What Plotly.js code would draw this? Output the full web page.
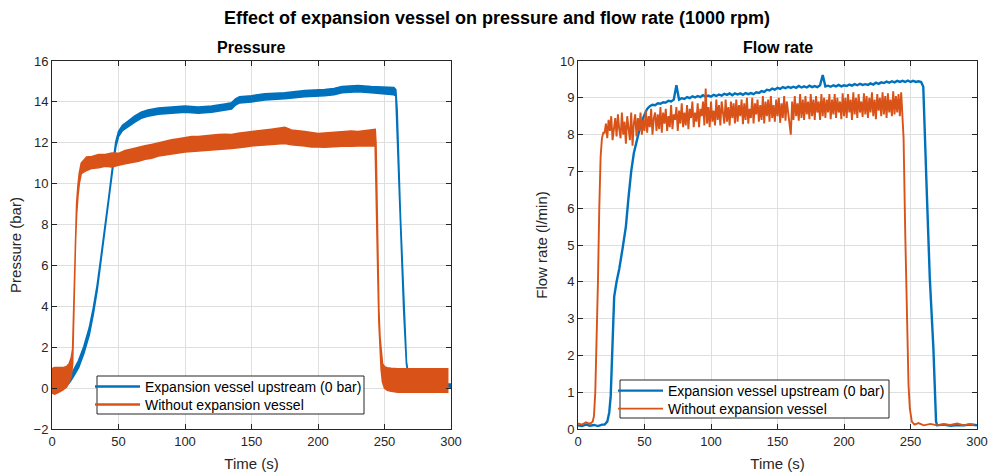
<!DOCTYPE html>
<html>
<head>
<meta charset="utf-8">
<script src="https://cdn.plot.ly/plotly-3.0.1.min.js"></script>
<style>
  html, body { margin: 0; padding: 0; background: #fff; }
  #chart { width: 994px; height: 475px; }
</style>
</head>
<body>
<div id="chart"></div>
<script>
// ---------------- Data ----------------
const seriesNames = ["Expansion vessel upstream (0 bar)", "Without expansion vessel"];
const xTickVals = [0, 50, 100, 150, 200, 250, 300];

// Pressure (bar) – noisy signals given as lower / upper envelope of the noise band
const pBlueT    = [0, 5, 10, 13, 16, 20, 24, 28, 31, 34, 37, 40, 43, 46, 48, 50, 53, 57, 62, 67, 72, 80, 90, 100, 110, 120, 130, 135, 138, 141, 150, 160, 175, 190, 205, 212, 218, 230, 240, 250, 257, 258.5, 259.5, 262, 264.5, 266.5, 268, 270, 280, 290, 300];
const pBlueLow  = [-0.1, -0.05, 0.1, 0.25, 0.55, 1.0, 1.7, 2.6, 3.6, 4.8, 6.3, 7.7, 9.3, 10.9, 11.8, 12.3, 12.6, 12.8, 13.0, 13.2, 13.3, 13.4, 13.45, 13.5, 13.45, 13.5, 13.6, 13.65, 13.85, 13.95, 14.0, 14.1, 14.15, 14.25, 14.3, 14.35, 14.45, 14.5, 14.45, 14.4, 14.35, 14.3, 13.3, 8.1, 3.7, 1.2, 0.55, 0.3, 0.15, 0.1, 0.05];
const pBlueHigh = [0.05, 0.1, 0.25, 0.45, 0.85, 1.35, 2.05, 2.95, 3.9, 5.05, 6.5, 7.9, 9.5, 11.1, 12.05, 12.55, 12.85, 13.05, 13.3, 13.5, 13.6, 13.7, 13.75, 13.8, 13.75, 13.8, 13.9, 13.95, 14.15, 14.25, 14.3, 14.4, 14.45, 14.55, 14.6, 14.65, 14.75, 14.8, 14.75, 14.7, 14.7, 14.6, 13.6, 8.4, 3.9, 1.3, 0.65, 0.4, 0.25, 0.2, 0.2];

const pOrangeT    = [0, 2, 5, 8, 11, 13, 14.5, 15.5, 16.3, 17, 17.7, 18.5, 19.5, 20.5, 22, 26, 30, 35, 40, 45, 50, 55, 60, 65, 70, 75, 80, 85, 90, 95, 100, 105, 110, 115, 120, 125, 130, 135, 140, 145, 150, 155, 160, 165, 170, 175, 180, 185, 190, 195, 200, 205, 210, 215, 220, 225, 230, 235, 240, 243, 243.6, 244.3, 245, 245.8, 246.6, 247.5, 248.5, 250, 252, 255, 260, 270, 280, 290, 297.5];
const pOrangeLow  = [-0.25, -0.3, -0.2, -0.1, 0.05, 0.3, 0.6, 1.2, 3.2, 5.2, 7.2, 8.5, 9.4, 10.0, 10.5, 10.65, 10.75, 10.78, 10.85, 10.82, 10.9, 10.98, 11.05, 11.1, 11.2, 11.25, 11.35, 11.38, 11.45, 11.5, 11.55, 11.55, 11.6, 11.62, 11.65, 11.66, 11.7, 11.72, 11.75, 11.8, 11.85, 11.86, 11.9, 11.92, 11.95, 11.97, 11.9, 11.88, 11.85, 11.8, 11.8, 11.78, 11.8, 11.82, 11.85, 11.83, 11.85, 11.86, 11.85, 11.85, 11.5, 8.5, 5.5, 3.2, 1.9, 0.9, 0.3, 0.0, -0.1, -0.15, -0.2, -0.2, -0.2, -0.2, -0.2];
const pOrangeHigh = [0.95, 1.0, 1.0, 1.0, 1.05, 1.2, 1.5, 1.9, 3.8, 5.8, 7.8, 9.0, 9.9, 10.5, 11.0, 11.3, 11.33, 11.42, 11.43, 11.5, 11.48, 11.62, 11.7, 11.76, 11.85, 11.92, 12.0, 12.08, 12.15, 12.2, 12.25, 12.3, 12.3, 12.34, 12.35, 12.4, 12.42, 12.4, 12.47, 12.5, 12.55, 12.58, 12.62, 12.66, 12.72, 12.75, 12.62, 12.6, 12.55, 12.5, 12.45, 12.48, 12.5, 12.52, 12.55, 12.57, 12.55, 12.6, 12.62, 12.65, 12.0, 9.2, 6.3, 3.8, 2.5, 1.7, 1.2, 1.05, 1.0, 0.97, 0.95, 0.95, 0.95, 0.95, 0.95];

// Flow rate (l/min)
const fBlueT = [0, 3, 6, 9, 12, 15, 18, 20, 22, 23.5, 24.6, 25.5, 26.3, 27.2, 29, 31, 33.5, 36, 38, 40, 42, 44.5, 47, 49.5, 52,
  54, 56, 58, 60, 62, 64, 66, 68, 70, 72, 74, 76, 78, 80, 82, 84, 86, 88, 90, 92, 94, 96, 98, 100,
  102, 104, 106, 108, 110, 112, 114, 116, 118, 120, 122, 124, 126, 128, 130, 132, 134, 136, 138, 140,
  142, 144, 146, 148, 150, 152, 154, 156, 158, 160, 162, 164, 166, 168, 170, 172, 174, 176, 178, 180,
  182, 184, 186, 188, 190, 192, 194, 196, 198, 200, 202, 204, 206, 208, 210, 212, 214, 216, 218, 220,
  222, 224, 226, 228, 230, 232, 234, 236, 238, 240, 242, 244, 246, 248, 250, 252, 254, 256, 258,
  259.6, 262, 264.5, 267.2, 268.2, 269.2, 270, 275, 280, 285, 290, 295, 300];
const fBlueV = [0.1, 0.08, 0.12, 0.09, 0.11, 0.08, 0.12, 0.12, 0.2, 0.45, 0.9, 1.8, 2.8, 3.6, 4.0, 4.35, 4.9, 5.5, 6.3, 7.0, 7.5, 7.85, 8.25, 8.5, 8.7,
  8.77, 8.81, 8.8, 8.85, 8.84, 8.88, 8.87, 8.92, 8.9, 8.95, 9.34, 8.95, 8.99, 8.97, 9.02, 8.99, 9.04, 9.01, 9.05, 9.02, 9.07, 9.03, 9.06, 9.03,
  9.08, 9.05, 9.09, 9.06, 9.11, 9.08, 9.12, 9.07, 9.12, 9.09, 9.12, 9.08, 9.13, 9.1, 9.13, 9.1, 9.15, 9.13, 9.18, 9.16,
  9.22, 9.2, 9.25, 9.22, 9.27, 9.24, 9.29, 9.26, 9.3, 9.27, 9.3, 9.27, 9.32, 9.28, 9.31, 9.28, 9.33, 9.29, 9.32, 9.29,
  9.34, 9.62, 9.31, 9.33, 9.3, 9.34, 9.31, 9.35, 9.31, 9.34, 9.32, 9.36, 9.33, 9.37, 9.34, 9.38, 9.35, 9.37, 9.35, 9.39,
  9.36, 9.41, 9.38, 9.42, 9.4, 9.44, 9.41, 9.45, 9.42, 9.46, 9.43, 9.46, 9.43, 9.47, 9.43, 9.46, 9.43, 9.45, 9.43,
  9.3, 6.7, 4.1, 2.2, 1.1, 0.2, 0.1, 0.12, 0.09, 0.11, 0.1, 0.12, 0.1];

const fOrangeT = [0, 3, 6, 9, 11, 12, 13, 14, 15, 16, 17, 18, 19,
  20, 21, 22, 23, 24, 25, 26, 27, 28, 29,
  30, 31, 32, 33, 34, 35, 36, 37, 38, 39,
  40, 41, 42, 43, 44, 45, 46, 47, 48, 49,
  50, 51, 52, 53, 54, 55, 56, 57, 58, 59,
  60, 61, 62, 63, 64, 65, 66, 67, 68, 69,
  70, 71, 72, 73, 74, 75, 76, 77, 78, 79,
  80, 81, 82, 83, 84, 85, 86, 87, 88, 89,
  90, 91, 92, 93, 94, 95, 96, 97, 98, 99,
  100, 101, 102, 103, 104, 105, 106, 107, 108, 109,
  110, 111, 112, 113, 114, 115, 116, 117, 118, 119,
  120, 121, 122, 123, 124, 125, 126, 127, 128, 129,
  130, 131, 132, 133, 134, 135, 136, 137, 138, 139,
  140, 141, 142, 143, 144, 145, 146, 147, 148, 149,
  150, 151, 152, 153, 154, 155, 156, 157, 158, 159,
  160, 161, 162, 163, 164, 165, 166, 167, 168, 169,
  170, 171, 172, 173, 174, 175, 176, 177, 178, 179,
  180, 181, 182, 183, 184, 185, 186, 187, 188, 189,
  190, 191, 192, 193, 194, 195, 196, 197, 198, 199,
  200, 201, 202, 203, 204, 205, 206, 207, 208, 209,
  210, 211, 212, 213, 214, 215, 216, 217, 218, 219,
  220, 221, 222, 223, 224, 225, 226, 227, 228, 229,
  230, 231, 232, 233, 234, 235, 236, 237, 238, 239,
  240, 241, 242, 243, 244,
  244.8, 246, 247.3, 248.5, 249.5, 251, 253, 256, 260, 265, 270, 275, 280, 285, 290, 294, 298];
const fOrangeV = [0.15, 0.12, 0.18, 0.14, 0.2, 0.35, 1.0, 2.2, 4.0, 6.0, 7.4, 7.9, 8.05,
  8.05, 8.3, 7.9, 8.4, 8.1, 8.5, 7.85, 8.25, 8.45, 7.95,
  8.55, 8.15, 7.9, 8.6, 8.0, 8.35, 7.75, 8.5, 8.2, 7.85,
  8.6, 7.7, 8.3, 8.55, 7.95, 8.45, 8.1, 8.6, 8.0, 8.4,
  8.1, 8.65, 8.05, 8.5, 8.2, 8.7, 8.0, 8.45, 8.6, 8.1,
  8.55, 8.15, 8.75, 8.05, 8.6, 8.3, 8.7, 8.1, 8.5, 8.2,
  8.8, 8.15, 8.55, 8.4, 8.75, 8.1, 8.65, 8.3, 8.85, 8.2,
  8.6, 8.25, 8.8, 8.15, 8.7, 8.45, 8.9, 8.2, 8.6, 8.35,
  8.85, 8.2, 8.7, 8.5, 8.9, 8.25, 9.25, 8.3, 8.75, 8.2,
  8.9, 8.35, 8.65, 8.25, 8.95, 8.4, 8.8, 8.25, 8.9, 8.5,
  8.3, 8.95, 8.35, 8.75, 8.25, 8.9, 8.45, 8.85, 8.3, 8.95,
  8.35, 8.8, 8.5, 8.95, 8.28, 8.85, 8.4, 9.0, 8.3, 8.7,
  8.45, 9.0, 8.3, 8.85, 8.55, 8.95, 8.35, 8.8, 8.4, 9.05,
  8.3, 8.9, 8.5, 8.95, 8.35, 9.05, 8.45, 8.8, 8.35, 8.95,
  8.5, 9.0, 8.32, 8.85, 8.45, 9.05, 8.38, 8.9, 8.55, 8.35,
  8.0, 8.9, 8.4, 9.05, 8.5, 8.85, 8.38, 9.1, 8.45, 8.95,
  8.4, 9.05, 8.55, 8.9, 8.42, 9.1, 8.5, 8.95, 8.4, 9.05,
  8.6, 8.9, 8.4, 9.1, 8.5, 9.0, 8.45, 8.95, 8.6, 9.1,
  8.42, 8.95, 8.55, 9.1, 8.45, 9.0, 8.6, 8.9, 8.42, 9.12,
  8.5, 9.0, 8.45, 9.1, 8.6, 8.95, 8.4, 9.15, 8.55, 9.0,
  8.45, 9.1, 8.6, 8.9, 8.48, 9.12, 8.55, 9.05, 8.45, 9.0,
  8.6, 9.15, 8.5, 8.95, 8.42, 9.1, 8.65, 9.0, 8.5, 9.15,
  8.55, 9.05, 8.45, 9.12, 8.6, 8.95, 8.5, 9.18, 8.55, 9.05,
  8.6, 9.1, 8.5, 9.15, 8.6,
  7.9, 5.4, 2.8, 1.2, 0.55, 0.2, 0.12, 0.16, 0.1, 0.14, 0.1, 0.13, 0.11, 0.15, 0.1, 0.13, 0.12];

// ---------------- Styling ----------------
const BLUE = '#0072BD';
const ORANGE = '#D95319';
const FONT = 'Liberation Sans, Arial, Helvetica, sans-serif';
const AXC = '#262626';
const W = 994, H = 475;

function band(t, lo, hi, color, xa, ya) {
  return {
    x: t.concat(t.slice().reverse()),
    y: hi.concat(lo.slice().reverse()),
    xaxis: xa, yaxis: ya,
    mode: 'lines', fill: 'toself', fillcolor: color,
    line: { color: color, width: 1.6 },
    showlegend: false, hoverinfo: 'skip'
  };
}

const traces = [
  band(pBlueT, pBlueLow, pBlueHigh, BLUE, 'x', 'y'),
  band(pOrangeT, pOrangeLow, pOrangeHigh, ORANGE, 'x', 'y'),
  { x: [null], y: [null], xaxis: 'x', yaxis: 'y', mode: 'lines', line: { color: BLUE, width: 2.5 }, name: seriesNames[0], legend: 'legend' },
  { x: [null], y: [null], xaxis: 'x', yaxis: 'y', mode: 'lines', line: { color: ORANGE, width: 2.5 }, name: seriesNames[1], legend: 'legend3' },
  { x: fBlueT, y: fBlueV, xaxis: 'x2', yaxis: 'y2', mode: 'lines', line: { color: BLUE, width: 2.4 }, name: seriesNames[0], legend: 'legend2' },
  { x: fOrangeT, y: fOrangeV, xaxis: 'x2', yaxis: 'y2', mode: 'lines', line: { color: ORANGE, width: 1.9 }, name: seriesNames[1], legend: 'legend4' }
];

function xAxis(domain, anchor) {
  return {
    domain: domain, anchor: anchor, range: [0, 300], tickvals: xTickVals,
    showgrid: true, gridcolor: '#dfdfdf', gridwidth: 1, zeroline: false,
    showline: true, linecolor: AXC, linewidth: 1, mirror: 'ticks',
    ticks: 'inside', ticklen: 5, tickcolor: AXC,
    tickfont: { family: FONT, size: 13, color: AXC },
    title: { text: 'Time (s)', font: { family: FONT, size: 15, color: AXC }, standoff: 10 },
    automargin: false
  };
}
function yAxis(domain, anchor, range, dtick, label) {
  return {
    domain: domain, anchor: anchor, range: range, dtick: dtick, tick0: 0,
    showgrid: true, gridcolor: '#dfdfdf', gridwidth: 1, zeroline: false,
    showline: true, linecolor: AXC, linewidth: 1, mirror: 'ticks',
    ticks: 'inside', ticklen: 5, tickcolor: AXC,
    tickfont: { family: FONT, size: 13, color: AXC },
    title: { text: label, font: { family: FONT, size: 15, color: AXC }, standoff: 8 },
    automargin: false
  };
}

const yDom = [1 - 429 / H, 1 - 61 / H];

function legendBox(x0, y0, x1, y1) {
  return {
    type: 'rect', xref: 'paper', yref: 'paper', layer: 'above',
    x0: x0 / W, x1: x1 / W, y0: 1 - y1 / H, y1: 1 - y0 / H,
    fillcolor: '#ffffff', line: { color: AXC, width: 1 }
  };
}
function legendRow(xPx, rowY) {
  return {
    x: xPx / W, y: 1 - rowY / H, xanchor: 'left', yanchor: 'middle', xref: 'paper', yref: 'paper',
    bgcolor: 'rgba(0,0,0,0)', borderwidth: 0,
    font: { family: FONT, size: 14, color: '#000' }, itemwidth: 45, tracegroupgap: 0
  };
}

const layout = {
  width: W, height: H,
  margin: { l: 0, r: 0, t: 0, b: 0 },
  paper_bgcolor: '#ffffff', plot_bgcolor: '#ffffff',
  font: { family: FONT, color: AXC },
  title: {
    text: 'Effect of expansion vessel on pressure and flow rate (1000 rpm)',
    font: { family: FONT, size: 18, color: '#000', weight: 'bold' },
    x: 0.5, xanchor: 'center', xref: 'paper', y: 1 - 18 / H, yanchor: 'middle', yref: 'paper'
  },
  xaxis: xAxis([52 / W, 451 / W], 'y'),
  yaxis: yAxis(yDom, 'x', [-2, 16], 2, 'Pressure (bar)'),
  xaxis2: xAxis([578 / W, 977 / W], 'y2'),
  yaxis2: yAxis(yDom, 'x2', [0, 10], 1, 'Flow rate (l/min)'),
  annotations: [
    { text: 'Pressure', x: (52 + 451) / 2 / W, y: 1 - 47 / H, xref: 'paper', yref: 'paper', xanchor: 'center', yanchor: 'middle', showarrow: false, font: { family: FONT, size: 16, color: '#000', weight: 'bold' } },
    { text: 'Flow rate', x: (578 + 977) / 2 / W, y: 1 - 47 / H, xref: 'paper', yref: 'paper', xanchor: 'center', yanchor: 'middle', showarrow: false, font: { family: FONT, size: 16, color: '#000', weight: 'bold' } }
  ],
  shapes: [
    legendBox(97, 376, 364, 414),
    legendBox(620, 380, 889, 418)
  ],
  legend: legendRow(90, 387),
  legend3: legendRow(90, 405),
  legend2: legendRow(613, 391),
  legend4: legendRow(613, 409),
  showlegend: true
};

Plotly.newPlot('chart', traces, layout, { displayModeBar: false, staticPlot: true });
</script>
</body>
</html>
